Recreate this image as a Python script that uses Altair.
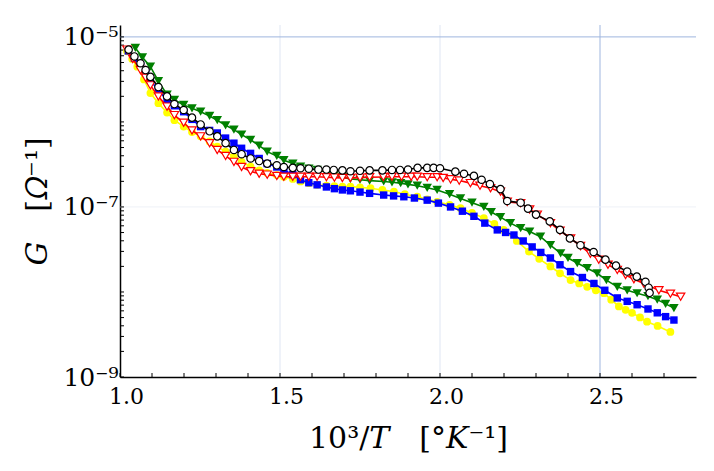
import altair as alt
import pandas as pd

# ---------------- data (x = 10^3/T, log10 of G) ----------------
black_x = [1.027, 1.045, 1.064, 1.08, 1.095, 1.12, 1.147, 1.17, 1.199, 1.225, 1.252, 1.28, 1.304, 1.33,
           1.356, 1.38, 1.408, 1.435, 1.46, 1.49, 1.512, 1.54, 1.564, 1.59, 1.62, 1.645, 1.668, 1.695,
           1.72, 1.75, 1.78, 1.82, 1.85, 1.875, 1.90, 1.93, 1.96, 1.98, 2.00, 2.048, 2.075, 2.106, 2.13,
           2.156, 2.189, 2.21, 2.252, 2.275, 2.30, 2.343, 2.375, 2.406, 2.439, 2.48, 2.517, 2.55, 2.585,
           2.615, 2.642, 2.652, 2.655]
black_log10G = [-5.15, -5.23, -5.31, -5.39, -5.47, -5.59, -5.70, -5.79, -5.86, -5.95, -6.03, -6.11, -6.17,
                -6.25, -6.33, -6.38, -6.43, -6.46, -6.49, -6.51, -6.53, -6.54, -6.545, -6.55, -6.56, -6.56,
                -6.565, -6.57, -6.58, -6.575, -6.57, -6.57, -6.565, -6.565, -6.56, -6.54, -6.54, -6.54,
                -6.545, -6.585, -6.61, -6.635, -6.68, -6.73, -6.79, -6.93, -6.95, -7.02, -7.09, -7.17,
                -7.27, -7.37, -7.45, -7.53, -7.62, -7.69, -7.76, -7.82, -7.88, -7.95, -8.01]

red_x = [1.022, 1.04, 1.064, 1.08, 1.095, 1.12, 1.147, 1.17, 1.199, 1.225, 1.252, 1.28, 1.304, 1.33,
         1.356, 1.38, 1.408, 1.435, 1.46, 1.49, 1.512, 1.54, 1.564, 1.59, 1.616, 1.645, 1.67, 1.695,
         1.72, 1.75, 1.78, 1.823, 1.85, 1.88, 1.91, 1.929, 1.96, 1.991, 2.01, 2.033, 2.06, 2.095, 2.125,
         2.158, 2.189, 2.21, 2.252, 2.28, 2.304, 2.345, 2.375, 2.408, 2.439, 2.47, 2.496, 2.525, 2.554,
         2.58, 2.606, 2.637, 2.684, 2.72, 2.752]
red_log10G = [-5.15, -5.26, -5.39, -5.48, -5.57, -5.70, -5.82, -5.92, -6.01, -6.10, -6.17, -6.25, -6.33,
              -6.40, -6.47, -6.53, -6.58, -6.61, -6.62, -6.635, -6.645, -6.645, -6.645, -6.645, -6.645,
              -6.65, -6.655, -6.66, -6.66, -6.655, -6.65, -6.647, -6.645, -6.645, -6.645, -6.645, -6.65,
              -6.65, -6.66, -6.675, -6.69, -6.72, -6.75, -6.78, -6.82, -6.94, -6.955, -7.03, -7.09, -7.19,
              -7.28, -7.37, -7.46, -7.55, -7.62, -7.68, -7.74, -7.80, -7.85, -7.90, -7.98, -8.02, -8.055]

green_x = [1.048, 1.07, 1.095, 1.12, 1.147, 1.17, 1.199, 1.225, 1.252, 1.28, 1.304, 1.33, 1.356, 1.38,
           1.408, 1.435, 1.46, 1.49, 1.512, 1.54, 1.564, 1.59, 1.616, 1.645, 1.67, 1.695, 1.72, 1.75,
           1.78, 1.824, 1.85, 1.877, 1.90, 1.929, 1.96, 1.991, 2.03, 2.064, 2.10, 2.137, 2.16, 2.189,
           2.22, 2.252, 2.28, 2.314, 2.345, 2.377, 2.40, 2.429, 2.46, 2.491, 2.52, 2.554, 2.585, 2.616,
           2.65, 2.679, 2.705, 2.731]
green_log10G = [-5.13, -5.24, -5.35, -5.52, -5.68, -5.74, -5.80, -5.84, -5.88, -5.93, -5.98, -6.04, -6.09,
                -6.15, -6.21, -6.28, -6.35, -6.40, -6.45, -6.49, -6.525, -6.55, -6.565, -6.59, -6.62,
                -6.65, -6.67, -6.68, -6.69, -6.70, -6.71, -6.72, -6.735, -6.75, -6.775, -6.80, -6.85,
                -6.90, -6.95, -7.00, -7.06, -7.12, -7.19, -7.25, -7.29, -7.35, -7.45, -7.545, -7.60, -7.66,
                -7.72, -7.78, -7.86, -7.94, -7.98, -8.015, -8.05, -8.09, -8.14, -8.19]

blue_x = [1.026, 1.045, 1.064, 1.08, 1.095, 1.12, 1.147, 1.17, 1.199, 1.225, 1.252, 1.28, 1.304, 1.33,
          1.356, 1.38, 1.408, 1.435, 1.46, 1.49, 1.512, 1.54, 1.564, 1.59, 1.616, 1.645, 1.67, 1.695,
          1.72, 1.75, 1.78, 1.824, 1.855, 1.887, 1.92, 1.96, 1.995, 2.033, 2.07, 2.106, 2.14, 2.179,
          2.205, 2.231, 2.26, 2.288, 2.315, 2.345, 2.375, 2.408, 2.445, 2.481, 2.515, 2.554, 2.585,
          2.616, 2.65, 2.679, 2.705, 2.731]
blue_log10G = [-5.165, -5.25, -5.33, -5.42, -5.51, -5.63, -5.74, -5.81, -5.88, -5.97, -6.055, -6.10,
               -6.13, -6.19, -6.25, -6.31, -6.37, -6.43, -6.49, -6.53, -6.565, -6.62, -6.68, -6.715,
               -6.74, -6.765, -6.785, -6.80, -6.81, -6.825, -6.84, -6.86, -6.87, -6.88, -6.895, -6.92,
               -6.955, -7.00, -7.05, -7.11, -7.19, -7.27, -7.30, -7.33, -7.40, -7.47, -7.535, -7.60,
               -7.68, -7.76, -7.83, -7.90, -7.98, -8.07, -8.11, -8.15, -8.20, -8.245, -8.29, -8.33]

yellow_x = [1.022, 1.038, 1.054, 1.075, 1.095, 1.12, 1.147, 1.17, 1.199, 1.225, 1.252, 1.28, 1.304, 1.33,
            1.356, 1.38, 1.408, 1.435, 1.46, 1.49, 1.512, 1.54, 1.564, 1.59, 1.616, 1.645, 1.67, 1.695,
            1.72, 1.75, 1.783, 1.82, 1.856, 1.89, 1.929, 1.96, 1.991, 2.03, 2.064, 2.10, 2.137, 2.17,
            2.199, 2.24, 2.278, 2.31, 2.345, 2.375, 2.408, 2.435, 2.46, 2.487, 2.512, 2.535, 2.559,
            2.58, 2.60, 2.625, 2.647, 2.68, 2.72]
yellow_log10G = [-5.17, -5.26, -5.35, -5.50, -5.66, -5.78, -5.89, -5.98, -6.055, -6.12, -6.17, -6.23,
                 -6.29, -6.35, -6.41, -6.47, -6.525, -6.57, -6.60, -6.625, -6.645, -6.67, -6.70, -6.72,
                 -6.74, -6.75, -6.755, -6.76, -6.76, -6.77, -6.78, -6.80, -6.82, -6.85, -6.88, -6.91,
                 -6.94, -6.975, -7.015, -7.07, -7.13, -7.20, -7.27, -7.40, -7.525, -7.61, -7.70, -7.78,
                 -7.86, -7.90, -7.94, -7.98, -8.015, -8.09, -8.17, -8.21, -8.245, -8.30, -8.35, -8.40,
                 -8.47]

# axis / grid definitions
x_domain = [1.0, 2.8]
y_domain = [1e-9, 1.38e-5]
x_tick_values = [1.0, 1.5, 2.0, 2.5]
y_tick_values = [1e-9, 1e-7, 1e-5]
y_tick_labels = ["10⁻⁹", "10⁻⁷", "10⁻⁵"]
x_title = "10³/𝑇\u2003[°𝐾⁻¹]"
y_title = "𝐺\u2003[𝛺⁻¹]"
grid_x_values = [1.5, 2.0, 2.5]
grid_x_colors = ["#dfe6f3", "#dfe6f3", "#9fb6df"]
grid_y_values = [1e-5, 1e-7]
grid_y_colors = ["#9fb6df", "#eef1f7"]
minor_x_ticks = [round(1.0 + 0.1 * i, 1) for i in range(18)]
minor_y_ticks = [k * 10.0 ** e for e in range(-9, -5) for k in range(1, 10)] + [1e-5]

# ---------------- build tables ----------------
series = [
    ("yellow", yellow_x, yellow_log10G, "#ffff00", "circle", True, 60),
    ("blue", blue_x, blue_log10G, "#0000ff", "square", True, 55),
    ("green", green_x, green_log10G, "#008000", "triangle-down", True, 90),
    ("red", red_x, red_log10G, "#ff0000", "triangle-down", False, 70),
    ("black", black_x, black_log10G, "#000000", "circle", False, 55),
]

label_expr = " : ".join(
    f"datum.value < {v * 3:.0e} ? '{lab}'" for v, lab in zip(y_tick_values[:-1], y_tick_labels[:-1])
) + f" : '{y_tick_labels[-1]}'"

x_enc = alt.X(
    "x:Q",
    scale=alt.Scale(domain=x_domain, nice=False, zero=False),
    axis=alt.Axis(values=x_tick_values, format=".1f", title=x_title, labelFlush=False,
                  labelOffset=6, labelPadding=9, titlePadding=16, labelFontSize=22),
)
y_enc = alt.Y(
    "G:Q",
    scale=alt.Scale(type="log", domain=y_domain, nice=False),
    axis=alt.Axis(values=y_tick_values, labelExpr=label_expr, title=y_title, labelFlush=False,
                  labelPadding=2, titlePadding=10, labelFontSize=25),
)

layers = []

gx = pd.DataFrame({"x": grid_x_values, "c": grid_x_colors})
layers.append(alt.Chart(gx).mark_rule(strokeWidth=1).encode(
    x=alt.X("x:Q", scale=alt.Scale(domain=x_domain, nice=False, zero=False)),
    color=alt.Color("c:N", scale=None)))
gy = pd.DataFrame({"G": grid_y_values, "c": grid_y_colors})
layers.append(alt.Chart(gy).mark_rule(strokeWidth=1).encode(
    y=alt.Y("G:Q", scale=alt.Scale(type="log", domain=y_domain, nice=False)),
    color=alt.Color("c:N", scale=None)))

# inward ticks
tx = pd.DataFrame({"x": minor_x_ticks})
layers.append(alt.Chart(tx).mark_rule(color="black", strokeWidth=1).encode(
    x=alt.X("x:Q", scale=alt.Scale(domain=x_domain, nice=False, zero=False)),
    y=alt.value(352), y2=alt.value(348)))
ty = pd.DataFrame({"G": minor_y_ticks})
layers.append(alt.Chart(ty).mark_rule(color="black", strokeWidth=1).encode(
    y=alt.Y("G:Q", scale=alt.Scale(type="log", domain=y_domain, nice=False)),
    x=alt.value(0), x2=alt.value(4)))

for name, xs, ls, col, shape, filled, size in series:
    df = pd.DataFrame({"x": xs, "G": [10 ** v for v in ls]})
    base = alt.Chart(df)
    layers.append(base.mark_line(color=col, strokeWidth=1.6).encode(x=x_enc, y=y_enc))
    if filled:
        pt = base.mark_point(shape=shape, filled=True, color=col, size=size, opacity=1)
    else:
        pt = base.mark_point(shape=shape, filled=True, fill="white", stroke=col,
                             strokeWidth=1.2, size=size, opacity=1)
    layers.append(pt.encode(x=x_enc, y=y_enc))

chart = alt.layer(*layers).properties(
    width=576, height=352,
    autosize=alt.AutoSizeParams(type="none"),
    padding={"left": 112, "top": 17, "right": 10, "bottom": 86},
).configure_view(stroke=None).configure_axis(
    grid=False, ticks=False, domainColor="black", domainWidth=1.5,
    labelFont="DejaVu Serif", labelColor="black",
    titleFont="DejaVu Serif", titleFontSize=30, titleFontWeight="normal", titleColor="black",
)

chart.save("out.html", embed_options={"renderer": "svg", "actions": False})
